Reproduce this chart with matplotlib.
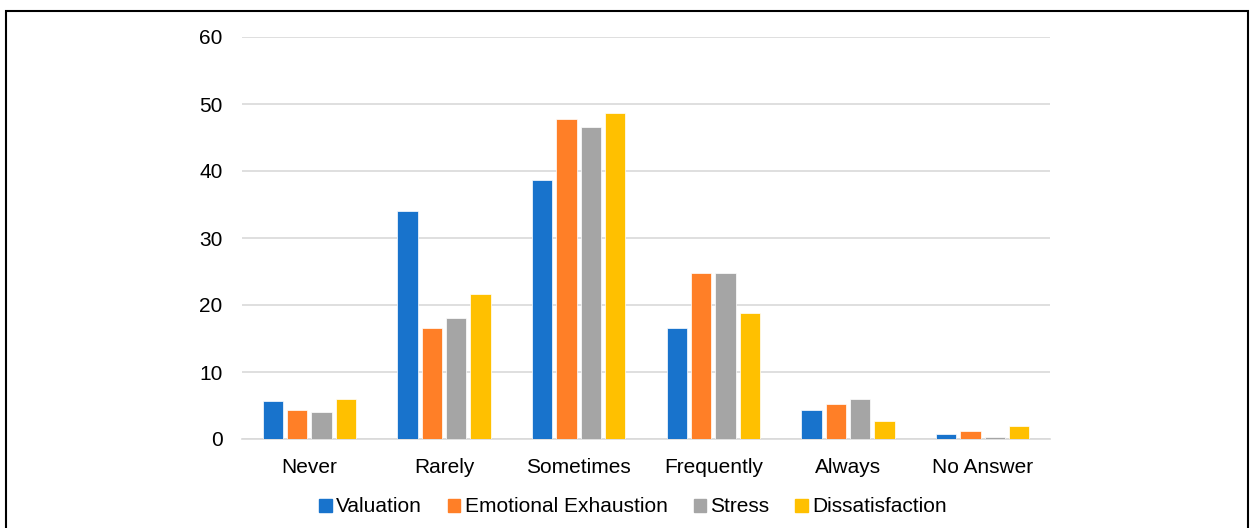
import matplotlib

matplotlib.use("Agg")
import matplotlib.pyplot as plt
import numpy as np
from matplotlib.patches import Rectangle

categories = ["Never", "Rarely", "Sometimes", "Frequently", "Always", "No Answer"]
series_names = ["Valuation", "Emotional Exhaustion", "Stress", "Dissatisfaction"]
valuation = [5.6, 34.1, 38.6, 16.5, 4.3, 0.7]
emotional_exhaustion = [4.3, 16.6, 47.8, 24.8, 5.2, 1.2]
stress = [4.0, 18.1, 46.6, 24.8, 5.9, 0.3]
dissatisfaction = [5.9, 21.7, 48.6, 18.8, 2.7, 1.9]
colors = ["#1873CC", "#FF7F27", "#A5A5A5", "#FFC000"]

plt.rcParams["font.family"] = ["Liberation Sans", "DejaVu Sans"]

fig = plt.figure(figsize=(12.54, 5.28), dpi=100)
ax = fig.add_axes([242 / 1254, (528 - 439) / 528, 808 / 1254, 402 / 528])

x = np.arange(len(categories))
width = 0.15
step = 0.181
all_series = [valuation, emotional_exhaustion, stress, dissatisfaction]
for i, (name, vals) in enumerate(zip(series_names, all_series)):
    ax.bar(x + (i - 1.5) * step, vals, width, color=colors[i], label=name,
           edgecolor="white", linewidth=0.5, zorder=3)

ax.set_xlim(-0.5, len(categories) - 0.5)
ax.set_ylim(0, 60)
ax.set_yticks(range(0, 61, 10))
ax.set_xticks(x)
ax.set_xticklabels(categories)
ax.grid(axis="y", color="#D9D9D9", linewidth=1.2, zorder=0)
for s in ["top", "right", "left"]:
    ax.spines[s].set_visible(False)
ax.spines["bottom"].set_color("#D9D9D9")
ax.spines["bottom"].set_linewidth(1.2)
ax.tick_params(axis="both", length=0, labelsize=15, colors="black")
ax.tick_params(axis="y", pad=14)
ax.tick_params(axis="x", pad=14)

handles = [Rectangle((0, 0), 1, 1, color=c) for c in colors]
fig.legend(handles, series_names, loc="center", bbox_to_anchor=(633 / 1254, 1 - 507 / 528),
           ncol=4, frameon=False, fontsize=15, handlelength=0.6, handleheight=0.6,
           handletextpad=0.2, columnspacing=1.25)

fig.patches.append(Rectangle((6 / 1254, -0.05), 1242 / 1254, 1.05 - 11 / 528,
                             transform=fig.transFigure, fill=False,
                             edgecolor="black", linewidth=1.5))

fig.savefig("out.png", dpi=100)
